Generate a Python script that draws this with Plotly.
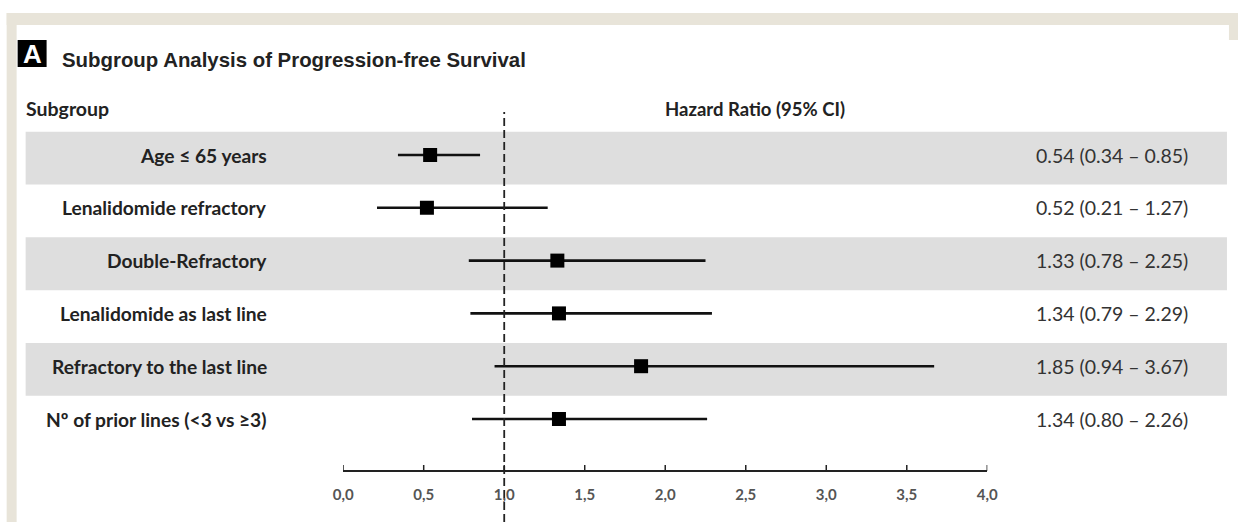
import plotly.graph_objects as go

# ---- data ----
subgroups = ["Age \u2264 65 years", "Lenalidomide refractory", "Double-Refractory",
             "Lenalidomide as last line", "Refractory to the last line",
             "N\u00ba of prior lines (<3 vs \u22653)"]
hr = [0.54, 0.52, 1.33, 1.34, 1.85, 1.34]
ci_low = [0.34, 0.21, 0.78, 0.79, 0.94, 0.80]
ci_high = [0.85, 1.27, 2.25, 2.29, 3.67, 2.26]
tick_vals = [0.0, 0.5, 1.0, 1.5, 2.0, 2.5, 3.0, 3.5, 4.0]
tick_text = ["0,0", "0,5", "1,0", "1,5", "2,0", "2,5", "3,0", "3,5", "4,0"]

W, H = 1238, 522
rows = list(range(len(subgroups)))

CAL = "Lato, 'Open Sans', sans-serif"
ARI = "'Liberation Sans', Arial, sans-serif"


def sx(px):
    # horizontal pixel position -> paper fraction (compensates observed render offset)
    return (px - 9.35) / 0.9844 / W


def sy(py):
    return 1 - py / H


fig = go.Figure()

# CI lines
for i in rows:
    fig.add_trace(go.Scatter(x=[ci_low[i], ci_high[i]], y=[i, i], mode="lines",
                             line=dict(color="#111", width=2.6), showlegend=False,
                             hoverinfo="skip"))
# markers
fig.add_trace(go.Scatter(x=hr, y=rows, mode="markers",
                         marker=dict(symbol="square", size=14, color="#000"),
                         showlegend=False))

AX_Y = 471
shapes = []
# beige frame
shapes.append(dict(type="rect", xref="paper", yref="paper", x0=sx(6), x1=sx(1238) + 0.02, y0=sy(25), y1=sy(13),
                   fillcolor="#e8e4d9", line_width=0, layer="below"))
shapes.append(dict(type="rect", xref="paper", yref="paper", x0=sx(6), x1=sx(16), y0=0, y1=sy(13),
                   fillcolor="#e8e4d9", line_width=0, layer="below"))
shapes.append(dict(type="rect", xref="paper", yref="paper", x0=sx(1230), x1=sx(1238) + 0.02, y0=sy(40), y1=sy(13),
                   fillcolor="#e8e4d9", line_width=0, layer="below"))
# gray bands
for i in rows[::2]:
    shapes.append(dict(type="rect", xref="paper", yref="y", x0=sx(25), x1=sx(1228),
                       y0=i - 0.44, y1=i + 0.56, fillcolor="#dedede", line_width=0, layer="below"))
# dashed reference line
shapes.append(dict(type="line", xref="x", yref="paper", x0=1, x1=1, y0=0, y1=sy(112),
                   line=dict(color="#222", width=1.8, dash="8px,4px")))
# axis tick marks (pointing up)
for t in tick_vals:
    shapes.append(dict(type="line", xref="x", yref="paper", x0=t, x1=t, y0=sy(AX_Y), y1=sy(AX_Y - 6),
                       line=dict(color="#222", width=1.5)))
# A box
shapes.append(dict(type="rect", xref="paper", yref="paper", x0=sx(17), x1=sx(46), y0=sy(67), y1=sy(40),
                   fillcolor="#000", line_width=0))

ann = []
ann.append(dict(x=sx(31.5), y=sy(54), xref="paper", yref="paper", text="<b>A</b>", showarrow=False,
                font=dict(family=ARI, size=26, color="#fff"), xanchor="center", yanchor="middle"))
ann.append(dict(x=sx(59), y=sy(60), xref="paper", yref="paper",
                text="<b>Subgroup Analysis of Progression-free Survival</b>", showarrow=False,
                font=dict(family=ARI, size=20.4, color="#222"), xanchor="left", yanchor="middle"))
ann.append(dict(x=sx(23), y=sy(109), xref="paper", yref="paper", text="<b>Subgroup</b>",
                showarrow=False, font=dict(family=CAL, size=19.5, color="#222"),
                xanchor="left", yanchor="middle"))
ann.append(dict(x=sx(755), y=sy(109), xref="paper", yref="paper", text="<b>Hazard Ratio (95% CI)</b>",
                showarrow=False, font=dict(family=CAL, size=18.5, color="#222"),
                xanchor="center", yanchor="middle"))
for i in rows:
    ann.append(dict(x=sx(269), y=i, xref="paper", yref="y",
                    text="<b>" + subgroups[i].replace("<", "&lt;") + "</b>",
                    showarrow=False, font=dict(family=CAL, size=19.2, color="#222"),
                    xanchor="right", yanchor="middle"))
    ann.append(dict(x=sx(1113), y=i, xref="paper", yref="y",
                    text=f"{hr[i]:.2f} ({ci_low[i]:.2f} \u2013 {ci_high[i]:.2f})",
                    showarrow=False, font=dict(family=CAL, size=19.5, color="#333"),
                    xanchor="center", yanchor="middle"))

top_i = -155 / 52.8
bot_i = (H - 155) / 52.8

fig.update_layout(
    width=W, height=H, margin=dict(l=0, r=0, t=0, b=0),
    paper_bgcolor="#fff", plot_bgcolor="rgba(0,0,0,0)",
    shapes=shapes, annotations=ann,
    xaxis=dict(domain=[sx(343), sx(988)], range=[0, 4], anchor="free", position=(H - AX_Y) / H,
               showline=True, linecolor="#222", linewidth=1.5, ticks="",
               tickvals=tick_vals, ticktext=tick_text,
               tickfont=dict(family=CAL, size=15, color="#555", weight="bold"), ticklabelstandoff=10,
               showgrid=False, zeroline=False, fixedrange=True),
    yaxis=dict(domain=[0, 1], range=[bot_i, top_i], visible=False, showgrid=False, fixedrange=True),
)

fig.write_html("out.html")
